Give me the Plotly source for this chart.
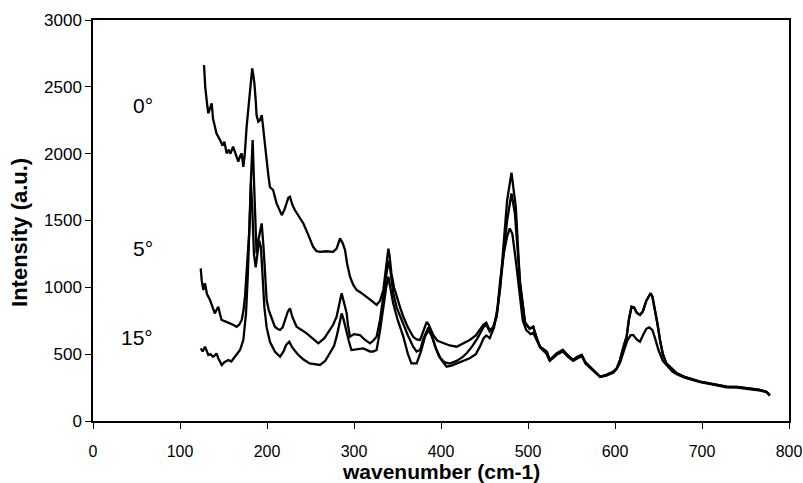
import plotly.graph_objects as go

# ---- data ----
x0 = [127.6, 129, 131, 132.5, 134, 136.4, 138, 139, 142, 146, 149, 151, 153.6, 156, 158, 161, 164, 167, 169, 171, 172.8,
      174.5, 176.6, 178.5, 180.5, 183, 184, 185.5, 187, 188, 190, 192, 194, 195.7, 197.5, 199.6, 201.5, 203.4, 207, 211,
      214, 217, 220, 224.5, 226.4, 229, 232, 237, 241.8, 247, 253, 257, 261, 268, 276, 280, 284, 287, 289.7, 292, 295.4,
      299, 303, 308, 314.6, 320, 326, 330, 333.7, 336.5, 339.5, 341, 343, 346, 349, 353, 356.7, 362, 368, 372, 376, 380,
      383.6, 386, 391, 396, 402.6, 410, 418, 425, 433, 440, 448.6, 452, 456, 460, 464, 468, 471.6, 476, 481, 485, 490.8,
      496.6, 502, 506, 510, 513.8, 521.5, 525, 533, 540, 546, 552, 557, 561.7, 566, 571, 577, 582.8, 590, 598, 602, 605.7,
      610, 613.4, 616, 619, 622, 625, 628.7, 632, 636, 641, 643, 646, 649, 651.7, 655, 659, 665, 671, 680, 690, 697.7,
      710, 720, 728.4, 740, 755, 765, 774, 778]
y0 = [2663, 2500, 2380, 2302, 2330, 2377, 2260, 2227, 2150, 2102, 2060, 2090, 2002, 2030, 2000, 2052, 1990, 1940, 1980, 2002, 1902,
      2000, 2202, 2350, 2476, 2638, 2600, 2526, 2400, 2289, 2240, 2252, 2289, 2177, 2060, 1953, 1840, 1750, 1728, 1628,
      1580, 1540, 1580, 1670, 1678, 1620, 1578, 1530, 1478, 1400, 1303, 1270, 1266, 1270, 1266, 1290, 1366, 1330, 1279, 1180, 1079,
      1020, 980, 960, 930, 900, 868, 900, 980, 1120, 1290, 1230, 1104, 1000, 930, 850, 780, 700, 630, 610, 606, 680,
      741, 720, 643, 600, 581, 565, 556, 580, 606, 640, 720, 735, 680, 700, 790, 1000, 1250, 1500, 1703, 1550, 1040,
      740, 690, 705, 620, 556, 519, 456, 506, 531, 490, 456, 480, 494, 440, 406, 370, 331, 345, 369, 394, 456,
      560, 631, 760, 855, 850, 810, 793, 820, 900, 955, 930, 830, 720, 606, 500, 431, 390, 356, 330, 310, 294,
      280, 265, 257, 255, 244, 235, 219, 194]

x5 = [123.8, 125, 126.8, 128.7, 131, 134.5, 137, 140, 142, 144, 146, 147.8, 152, 157.5, 161, 165, 168, 171, 173, 174.7,
      176, 177.4, 179.7, 181.5, 183.5, 185, 186.5, 188, 190, 192, 193.9, 196, 197.5, 199.6, 202, 205, 209, 212, 215, 218,
      222, 224, 226.4, 229, 234, 240, 245.6, 252, 259, 266, 272.4, 276, 280, 283, 285.8, 288, 291.6, 293, 295.4, 300,
      306.9, 312, 318.4, 322, 326, 330, 333.7, 336.5, 339.5, 342, 345, 349, 352, 356.7, 362, 368, 372, 376, 380, 385.5,
      389, 393, 398, 404, 410, 418, 425, 430, 436, 442, 448.6, 452, 456, 460, 464, 468, 471.6, 476, 481, 486, 490.8,
      496.6, 502, 506, 510, 513.8, 521.5, 525, 533, 540, 546, 552, 557, 561.7, 566, 571, 577, 582.8, 590, 598, 602,
      605.7, 610, 613.4, 616, 619, 622, 625, 628.7, 632, 636, 641, 643, 646, 649, 651.7, 655, 659, 665, 671, 680, 690,
      697.7, 710, 720, 728.4, 740, 755, 765, 774, 778]
y5 = [1142, 1050, 980, 1030, 950, 905, 860, 805, 830, 855, 800, 756, 745, 731, 720, 705, 720, 756, 830, 930,
      1050, 1179, 1429, 1800, 2102, 1800, 1500, 1254, 1350, 1430, 1478, 1300, 1100, 905, 830, 780, 705, 690, 681, 700,
      780, 820, 843, 780, 705, 680, 656, 620, 581, 620, 681, 720, 780, 880, 955, 900, 805, 720, 631, 650,
      643, 610, 581, 600, 631, 760, 930, 1080, 1200, 1120, 960, 850, 800, 731, 640, 556, 520, 531, 620, 700,
      660, 560, 480, 440, 430, 450, 480, 510, 560, 620, 700, 720, 668, 700, 780, 1000, 1279, 1650, 1858, 1600, 1029,
      731, 690, 705, 620, 556, 519, 456, 506, 531, 490, 456, 480, 494, 440, 406, 370, 331, 345, 369, 394,
      456, 560, 631, 760, 855, 850, 810, 793, 820, 900, 955, 930, 830, 720, 606, 500, 431, 390, 356, 330, 310,
      294, 280, 265, 257, 255, 244, 235, 219, 194]

x15 = [123.8, 126, 128.7, 130.5, 132.6, 135, 138, 140, 142, 144, 146, 148, 151, 155.5, 159, 163, 166, 169, 172.8, 175.9,
       178, 180, 181.5, 183, 185, 187, 189, 191, 193, 195, 197, 199.6, 203.4, 209, 215, 219, 222, 225.6, 229, 236,
       242, 249, 255, 261, 267, 272.4, 277, 280, 283, 285.8, 288, 290.8, 294, 297, 304, 310.7, 315, 318.4, 322, 326,
       330, 333.7, 337, 339.5, 342, 345, 350, 356.7, 362, 366, 372, 377, 381.6, 385.4, 389, 395, 400, 406.5, 412, 418,
       425, 433, 440, 445, 449, 452, 456, 461, 465, 468, 472, 476, 479, 482, 486, 490, 494, 498, 503, 506,
       510, 514, 521, 525, 533, 540, 546, 552, 557, 562, 566, 571, 577, 583, 590, 598, 602, 606, 610, 614,
       618, 621, 625, 628.7, 632, 636, 639.5, 643, 646, 650, 655, 660, 666, 671, 680, 690, 698, 710, 720, 728,
       740, 755, 765, 774, 778]
y15 = [543, 520, 556, 530, 494, 500, 481, 490, 506, 470, 440, 419, 440, 456, 445, 481, 500, 531, 606, 805,
       1100, 1500, 1780, 1600, 1250, 1150, 1250, 1350, 1300, 1050, 850, 700, 593, 520, 481, 520, 570, 593, 550, 494,
       460, 431, 425, 419, 450, 506, 560, 631, 730, 805, 760, 680, 600, 531, 540, 543, 530, 519, 520, 531,
       680, 855, 1000, 1079, 1000, 880, 760, 631, 500, 431, 431, 520, 631, 680, 640, 531, 460, 406, 415, 431,
       450, 469, 500, 560, 620, 640, 620, 700, 850, 1050, 1250, 1380, 1441, 1400, 1200, 950, 750, 680, 650, 660,
       600, 550, 505, 450, 495, 520, 480, 450, 470, 485, 430, 400, 365, 330, 340, 360, 390, 440, 520, 600,
       643, 643, 610, 593, 640, 690, 700, 680, 620, 531, 450, 410, 370, 350, 325, 305, 290, 275, 262, 252,
       250, 240, 230, 215, 190]

labels = ["0°", "5°", "15°"]
label_y = [2364, 1294, 621]
label_x = 71

x_ticks = [0, 100, 200, 300, 400, 500, 600, 700, 800]
y_ticks = [0, 500, 1000, 1500, 2000, 2500, 3000]

FONT = "Liberation Sans, Arial, sans-serif"

fig = go.Figure()
for xs, ys, name in [(x0, y0, labels[0]), (x5, y5, labels[1]), (x15, y15, labels[2])]:
    fig.add_trace(go.Scatter(x=xs, y=ys, mode="lines", name=name,
                             line=dict(color="black", width=2.3), showlegend=False))

for t, yv in zip(labels, label_y):
    fig.add_annotation(x=label_x, y=yv, text=t, showarrow=False, xanchor="right", yanchor="middle",
                       font=dict(family=FONT, size=21, color="black"))

fig.add_annotation(x=0.5, y=0, xref="paper", yref="paper", text="<b>wavenumber (cm-1)</b>", showarrow=False,
                   xanchor="center", yanchor="middle", yshift=-50,
                   font=dict(family=FONT, size=21, color="black"))
fig.add_annotation(x=0, y=0.469, xref="paper", yref="paper", text="<b>Intensity (a.u.)</b>", showarrow=False,
                   xanchor="center", yanchor="middle", xshift=-73, textangle=-90,
                   font=dict(family=FONT, size=22, color="black"))

axis_common = dict(showline=True, mirror=True, linecolor="black", linewidth=1.5, ticks="outside", ticklen=6,
                   tickcolor="black", tickwidth=1, showgrid=False, zeroline=False, automargin=False)
fig.update_xaxes(range=[0, 800], tickvals=x_ticks, ticktext=[str(v) for v in x_ticks],
                 tickfont=dict(family=FONT, size=16, color="black"), ticklabeloverflow="allow",
                 ticklabelstandoff=9, **axis_common)
fig.update_yaxes(range=[0, 3000], tickvals=y_ticks, ticktext=[str(v) for v in y_ticks],
                 tickfont=dict(family=FONT, size=17, color="black"), **axis_common)

fig.update_layout(width=803, height=483, margin=dict(l=93, r=14, t=20, b=62),
                  plot_bgcolor="white", paper_bgcolor="white", font=dict(family=FONT, color="black"))

fig.write_html("out.html")
